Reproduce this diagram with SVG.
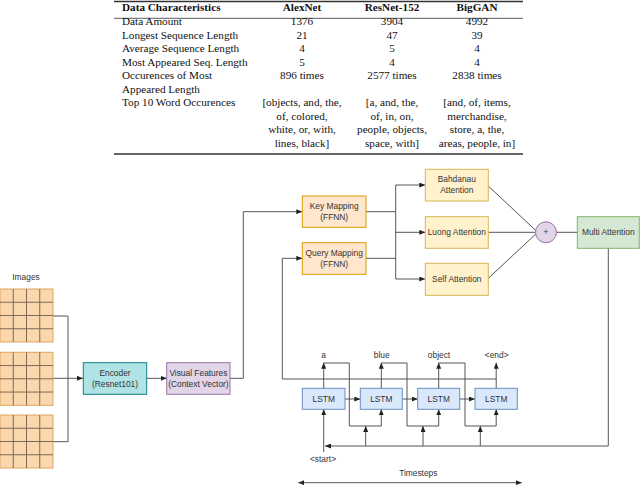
<svg xmlns="http://www.w3.org/2000/svg" width="640" height="485" viewBox="0 0 640 485">
<style>
.tb{font-family:"Liberation Serif","DejaVu Serif",serif;font-size:11.2px;fill:#111}
.tbh{font-weight:bold}
.c{text-anchor:middle}
.lb{font-family:"Liberation Sans",Arial,sans-serif;font-size:8.4px;fill:#333;text-anchor:middle}
.ln{fill:none;stroke:#555;stroke-width:1}
.rule{stroke:#333}
.cell{fill:#fad7ac;stroke:#e2a45c;stroke-width:1}
.gl{stroke:#7d6a55;stroke-width:1}
</style>
<defs>
<marker id="ar" markerUnits="userSpaceOnUse" markerWidth="6" markerHeight="5" refX="6" refY="2.5" orient="auto">
<path d="M0,0 L6,2.5 L0,5 z" fill="#222"/>
</marker>
<marker id="arS" markerUnits="userSpaceOnUse" markerWidth="6" markerHeight="5" refX="0" refY="2.5" orient="auto">
<path d="M6,0 L0,2.5 L6,5 z" fill="#222"/>
</marker>
<g id="grid">
<rect class="cell" x="0" y="0" width="53" height="53"/>
<path class="gl" d="M13.25,0 V53 M26.5,0 V53 M39.75,0 V53 M0,13.25 H53 M0,26.5 H53 M0,39.75 H53"/>
</g>
</defs>

<g id="table">
<line class="rule" x1="114" y1="1.5" x2="523" y2="1.5" stroke-width="1.6"/>
<line class="rule" x1="114" y1="18.3" x2="523" y2="18.3" stroke-width="0.8"/>
<line class="rule" x1="114" y1="154" x2="523" y2="154" stroke-width="1.6"/>
<text class="tb tbh" x="122" y="11">Data Characteristics</text>
<text class="tb tbh c" x="302" y="11">AlexNet</text>
<text class="tb tbh c" x="392" y="11">ResNet-152</text>
<text class="tb tbh c" x="477" y="11">BigGAN</text>
<text class="tb" x="122" y="25">Data Amount</text>
<text class="tb c" x="302" y="25">1376</text>
<text class="tb c" x="392" y="25">3904</text>
<text class="tb c" x="477" y="25">4992</text>
<text class="tb" x="122" y="38.5">Longest Sequence Length</text>
<text class="tb c" x="302" y="38.5">21</text>
<text class="tb c" x="392" y="38.5">47</text>
<text class="tb c" x="477" y="38.5">39</text>
<text class="tb" x="122" y="52">Average Sequence Length</text>
<text class="tb c" x="302" y="52">4</text>
<text class="tb c" x="392" y="52">5</text>
<text class="tb c" x="477" y="52">4</text>
<text class="tb" x="122" y="65.5">Most Appeared Seq. Length</text>
<text class="tb c" x="302" y="65.5">5</text>
<text class="tb c" x="392" y="65.5">4</text>
<text class="tb c" x="477" y="65.5">4</text>
<text class="tb" x="122" y="79">Occurences of Most</text>
<text class="tb" x="122" y="92.5">Appeared Length</text>
<text class="tb c" x="302" y="79">896 times</text>
<text class="tb c" x="392" y="79">2577 times</text>
<text class="tb c" x="477" y="79">2838 times</text>
<text class="tb" x="122" y="106">Top 10 Word Occurences</text>
<text class="tb c" x="302" y="106">[objects, and, the,</text>
<text class="tb c" x="302" y="119.5">of, colored,</text>
<text class="tb c" x="302" y="133">white, or, with,</text>
<text class="tb c" x="302" y="146.5">lines, black]</text>
<text class="tb c" x="392" y="106">[a, and, the,</text>
<text class="tb c" x="392" y="119.5">of, in, on,</text>
<text class="tb c" x="392" y="133">people, objects,</text>
<text class="tb c" x="392" y="146.5">space, with]</text>
<text class="tb c" x="477" y="106">[and, of, items,</text>
<text class="tb c" x="477" y="119.5">merchandise,</text>
<text class="tb c" x="477" y="133">store, a, the,</text>
<text class="tb c" x="477" y="146.5">areas, people, in]</text>
</g>

<g id="connectors">
<path class="ln" d="M53,316 H68 V441.7 H53"/>
<path class="ln" d="M53,378.3 H83" marker-end="url(#ar)"/>
<path class="ln" d="M146.7,378.3 H166.7" marker-end="url(#ar)"/>
<path class="ln" d="M230,378.3 H243.3 V211.7 H302.3" marker-end="url(#ar)"/>
<path class="ln" d="M496.5,379 H282.3 V258.3 H302.3" marker-end="url(#ar)"/>
<path class="ln" d="M366,211.7 H395.7 M366,258.3 H395.7 M395.7,185 V279"/>
<path class="ln" d="M395.7,185 H425.3" marker-end="url(#ar)"/>
<path class="ln" d="M395.7,232.3 H425.3" marker-end="url(#ar)"/>
<path class="ln" d="M395.7,279 H425.3" marker-end="url(#ar)"/>
<path class="ln" d="M488.3,186 L535.8,230.5"/>
<path class="ln" d="M488.3,232.3 H535.5"/>
<path class="ln" d="M488.3,278.3 L535.8,234"/>
<path class="ln" d="M556.5,232.3 H577.3"/>
<path class="ln" d="M608.3,248.3 V446 H325" marker-end="url(#ar)"/>
<path class="ln" d="M365.7,446 V426" marker-end="url(#ar)"/>
<path class="ln" d="M423,446 V426" marker-end="url(#ar)"/>
<path class="ln" d="M480.3,446 V426" marker-end="url(#ar)"/>
<path class="ln" d="M323.7,388.3 V362.7" marker-end="url(#ar)"/>
<path class="ln" d="M381.3,388.3 V362.7" marker-end="url(#ar)"/>
<path class="ln" d="M438.7,388.3 V362.7" marker-end="url(#ar)"/>
<path class="ln" d="M496.2,388.3 V362.7" marker-end="url(#ar)"/>
<path class="ln" d="M323.7,363 H349.3 V426 H381.3 V409.3" marker-end="url(#ar)"/>
<path class="ln" d="M381.3,363 H407 V426 H438.7 V409.3" marker-end="url(#ar)"/>
<path class="ln" d="M438.7,363 H465 V426 H496.2 V409.3" marker-end="url(#ar)"/>
<path class="ln" d="M323.7,452 V409.3" marker-end="url(#ar)"/>
<path class="ln" d="M345,399 H360.3" marker-end="url(#ar)"/>
<path class="ln" d="M402.3,399 H417.7" marker-end="url(#ar)"/>
<path class="ln" d="M459.7,399 H475" marker-end="url(#ar)"/>
<path class="ln" d="M298.3,482.7 H521.7" marker-start="url(#arS)" marker-end="url(#ar)"/>
</g>

<g id="images">
<text class="lb" x="26" y="280">Images</text>
<use href="#grid" x="0" y="289"/>
<use href="#grid" x="0" y="352.3"/>
<use href="#grid" x="0" y="415"/>
</g>

<g id="encoder">
<rect x="83.3" y="362.7" width="63.4" height="31.6" fill="#b0e3e6" stroke="#0e8088"/>
<text class="lb" x="115" y="376.3">Encoder</text>
<text class="lb" x="115" y="387">(Resnet101)</text>
</g>

<g id="visual-features">
<rect x="166.7" y="362.7" width="63.3" height="31.6" fill="#e1d5e7" stroke="#9673a6"/>
<text class="lb" x="198.4" y="376.3">Visual Features</text>
<text class="lb" x="198.4" y="387">(Context Vector)</text>
</g>

<g id="key-mapping">
<rect x="302.3" y="196" width="63.7" height="31.3" fill="#ffe6cc" stroke="#d79b00"/>
<text class="lb" x="334.2" y="208.8">Key Mapping</text>
<text class="lb" x="334.2" y="219.8">(FFNN)</text>
</g>

<g id="query-mapping">
<rect x="302.3" y="242.7" width="63.7" height="31.6" fill="#ffe6cc" stroke="#d79b00"/>
<text class="lb" x="334.2" y="255.5">Query Mapping</text>
<text class="lb" x="334.2" y="266.5">(FFNN)</text>
</g>

<g id="bahdanau">
<rect x="425.3" y="169.3" width="63" height="31.7" fill="#fff2cc" stroke="#d6b656"/>
<text class="lb" x="456.8" y="182.3">Bahdanau</text>
<text class="lb" x="456.8" y="193.3">Attention</text>
</g>

<g id="luong">
<rect x="425.3" y="216.7" width="63" height="31.6" fill="#fff2cc" stroke="#d6b656"/>
<text class="lb" x="456.8" y="235.3">Luong Attention</text>
</g>

<g id="self">
<rect x="425.3" y="263.3" width="63" height="32" fill="#fff2cc" stroke="#d6b656"/>
<text class="lb" x="456.8" y="282.3">Self Attention</text>
</g>

<g id="plus">
<circle cx="546" cy="232.3" r="10.5" fill="#e1d5e7" stroke="#9673a6"/>
<text class="lb" x="546" y="235.3">+</text>
</g>

<g id="multi-attention">
<rect x="577.3" y="216.7" width="62" height="31.6" fill="#d5e8d4" stroke="#82b366"/>
<text class="lb" x="608.3" y="235.3">Multi Attention</text>
</g>

<g id="lstm1">
<rect x="302.3" y="388.3" width="42.7" height="21" fill="#dae8fc" stroke="#6c8ebf"/>
<text class="lb" x="323.7" y="401.8">LSTM</text>
</g>
<g id="lstm2">
<rect x="360.3" y="388.3" width="42" height="21" fill="#dae8fc" stroke="#6c8ebf"/>
<text class="lb" x="381.3" y="401.8">LSTM</text>
</g>
<g id="lstm3">
<rect x="417.7" y="388.3" width="42" height="21" fill="#dae8fc" stroke="#6c8ebf"/>
<text class="lb" x="438.7" y="401.8">LSTM</text>
</g>
<g id="lstm4">
<rect x="475" y="388.3" width="42.3" height="21" fill="#dae8fc" stroke="#6c8ebf"/>
<text class="lb" x="496.2" y="401.8">LSTM</text>
</g>

<g id="labels">
<text class="lb" x="323.5" y="358">a</text>
<text class="lb" x="381.7" y="358">blue</text>
<text class="lb" x="439" y="358">object</text>
<text class="lb" x="496.7" y="358">&lt;end&gt;</text>
<text class="lb" x="323" y="462">&lt;start&gt;</text>
<text class="lb" x="418.3" y="475.7">Timesteps</text>
</g>
</svg>
